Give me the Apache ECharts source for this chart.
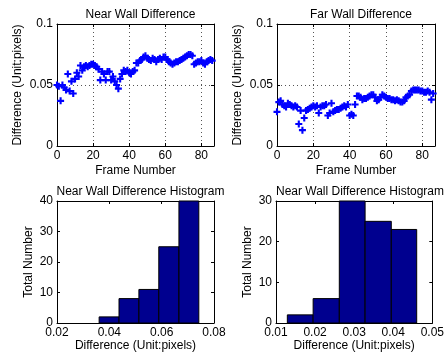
<!DOCTYPE html>
<html>
<head>
<meta charset="utf-8">
<script src="https://cdn.jsdelivr.net/npm/echarts@6/dist/echarts.min.js"></script>
<style>
html,body{margin:0;padding:0;background:#fff;}
#c{width:447px;height:362px;}
</style>
</head>
<body>
<div id="c"></div>
<script>
// ---- data ----
const nearWall = [0.050,0.049,0.037,0.050,0.048,0.046,0.059,0.045,0.053,0.043,
  0.055,0.060,0.057,0.066,0.062,0.065,0.066,0.065,0.066,0.067,
  0.067,0.066,0.065,0.063,0.054,0.061,0.059,0.054,0.061,0.061,
  0.054,0.057,0.053,0.050,0.047,0.055,0.059,0.062,0.061,0.062,
  0.060,0.059,0.061,0.062,0.068,0.068,0.070,0.071,0.073,0.074,
  0.072,0.071,0.070,0.072,0.071,0.069,0.071,0.072,0.071,0.073,
  0.073,0.071,0.069,0.068,0.067,0.068,0.069,0.069,0.070,0.071,
  0.072,0.073,0.074,0.075,0.075,0.074,0.067,0.068,0.069,0.069,
  0.070,0.068,0.067,0.069,0.070,0.071,0.070];
const farWall = [0.028,0.036,0.037,0.034,0.033,0.032,0.035,0.034,0.033,0.032,
  0.033,0.032,0.018,0.029,0.013,0.023,0.029,0.030,0.031,0.032,
  0.033,0.032,0.033,0.027,0.032,0.033,0.033,0.034,0.025,0.027,
  0.035,0.028,0.029,0.030,0.030,0.031,0.032,0.033,0.032,0.034,
  0.025,0.026,0.025,0.034,0.041,0.041,0.040,0.038,0.039,0.039,
  0.040,0.041,0.042,0.042,0.040,0.037,0.038,0.040,0.042,0.041,
  0.040,0.039,0.039,0.038,0.038,0.037,0.038,0.037,0.036,0.036,
  0.037,0.040,0.041,0.042,0.045,0.046,0.046,0.046,0.046,0.045,
  0.045,0.044,0.044,0.045,0.044,0.038,0.043];
const nearHistEdges = [0.0361,0.0437,0.0513,0.0589,0.0666,0.0742];
const nearHistCounts = [2,8,11,25,40];
const farHistEdges = [0.0129,0.0195,0.0262,0.0328,0.0395,0.0460];
const farHistCounts = [2,6,30,25,23];
const titles = ['Near Wall Difference','Far Wall Difference','Near Wall Difference Histogram','Near Wall Difference Histogram'];
const xNameScatter = 'Frame Number';
const yNameScatter = 'Difference (Unit:pixels)';
const xNameHist = 'Difference (Unit:pixels)';
const yNameHist = 'Total Number';

// ---- build ----
const FONT = 'Liberation Sans';
const txt = {color:'#000', fontFamily:FONT, fontSize:12};
const grids = [
  {left:57, top:24, width:157, height:122},
  {left:277, top:24, width:158, height:122},
  {left:57, top:201, width:157, height:122},
  {left:276, top:201, width:158, height:122}
];
const xr = [[0,87,20],[0,87,20],[0.02,0.08,0.02],[0.01,0.05,0.01]];
const yr = [[0,0.1,0.05],[0,0.1,0.05],[0,40,10],[0,30,10]];
const xAxes = [], yAxes = [];
const lineS = {lineStyle:{color:'#000', width:1}};
for (let i=0;i<4;i++){
  const scatter = i<2;
  xAxes.push({type:'value', gridIndex:i, min:xr[i][0], max:xr[i][1], interval:xr[i][2], position:'bottom',
    name: scatter?xNameScatter:xNameHist, nameLocation:'middle', nameGap:scatter?19:17, nameTextStyle:txt,
    axisLine:Object.assign({show:true,onZero:false},lineS), axisTick:{show:true,inside:true,length:3,lineStyle:{color:'#000'}},
    axisLabel:Object.assign({margin:4, showMinLabel:true, showMaxLabel:!scatter}, txt),
    splitLine:{show:scatter, lineStyle:{color:'#555', type:[1,3], width:1}}});
  xAxes.push({type:'value', gridIndex:i, min:xr[i][0], max:xr[i][1], interval:xr[i][2], position:'top',
    axisLine:Object.assign({show:true,onZero:false},lineS), axisTick:{show:true,inside:true,length:3,lineStyle:{color:'#000'}},
    axisLabel:{show:false}, splitLine:{show:false}});
  yAxes.push({type:'value', gridIndex:i, min:yr[i][0], max:yr[i][1], interval:yr[i][2], position:'left',
    name: scatter?yNameScatter:yNameHist, nameLocation:'middle', nameGap:scatter?33:22, nameRotate:90, nameTextStyle:txt,
    axisLine:Object.assign({show:true,onZero:false},lineS), axisTick:{show:true,inside:true,length:3,lineStyle:{color:'#000'}},
    axisLabel:Object.assign({margin:4, showMinLabel:true, showMaxLabel:true}, txt),
    splitLine:{show:scatter, lineStyle:{color:'#555', type:[1,3], width:1}}});
  yAxes.push({type:'value', gridIndex:i, min:yr[i][0], max:yr[i][1], interval:yr[i][2], position:'right',
    axisLine:Object.assign({show:true,onZero:false},lineS), axisTick:{show:true,inside:true,length:3,lineStyle:{color:'#000'}},
    axisLabel:{show:false}, splitLine:{show:false}});
}
const plus = 'path://M3.5,0L6.5,0L6.5,3.5L10,3.5L10,6.5L6.5,6.5L6.5,10L3.5,10L3.5,6.5L0,6.5L0,3.5L3.5,3.5Z';
function histSeries(edges, counts, gi){
  const data = counts.map((c,k)=>[edges[k], edges[k+1], c]);
  return {type:'custom', xAxisIndex:gi*2, yAxisIndex:gi*2, data:data, encode:{x:[0,1], y:2}, silent:true,
    renderItem:function(params, api){
      const p0 = api.coord([api.value(0), 0]);
      const p1 = api.coord([api.value(1), api.value(2)]);
      return {type:'rect', shape:{x:p0[0], y:p1[1], width:p1[0]-p0[0], height:p0[1]-p1[1]},
        style:{fill:'#00008F', stroke:'#000', lineWidth:1}};
    }};
}
const option = {
  animation:false,
  backgroundColor:'#fff',
  title: titles.map((t,i)=>({text:t, left:grids[i].left+grids[i].width/2, textAlign:'center', top:i<2?4:181,
    textStyle:{color:'#000', fontFamily:FONT, fontSize:12, fontWeight:'normal'}})),
  grid: grids,
  xAxis: xAxes,
  yAxis: yAxes,
  series: [
    {type:'scatter', xAxisIndex:0, yAxisIndex:0, data: nearWall.map((v,k)=>[k,v]), symbol:plus, symbolSize:7,
      itemStyle:{color:'#0000FF', opacity:1}, silent:true},
    {type:'scatter', xAxisIndex:2, yAxisIndex:2, data: farWall.map((v,k)=>[k,v]), symbol:plus, symbolSize:7,
      itemStyle:{color:'#0000FF', opacity:1}, silent:true},
    histSeries(nearHistEdges, nearHistCounts, 2),
    histSeries(farHistEdges, farHistCounts, 3)
  ]
};
const chart = echarts.init(document.getElementById('c'), null, {renderer:'canvas'});
chart.setOption(option);
</script>
</body>
</html>
